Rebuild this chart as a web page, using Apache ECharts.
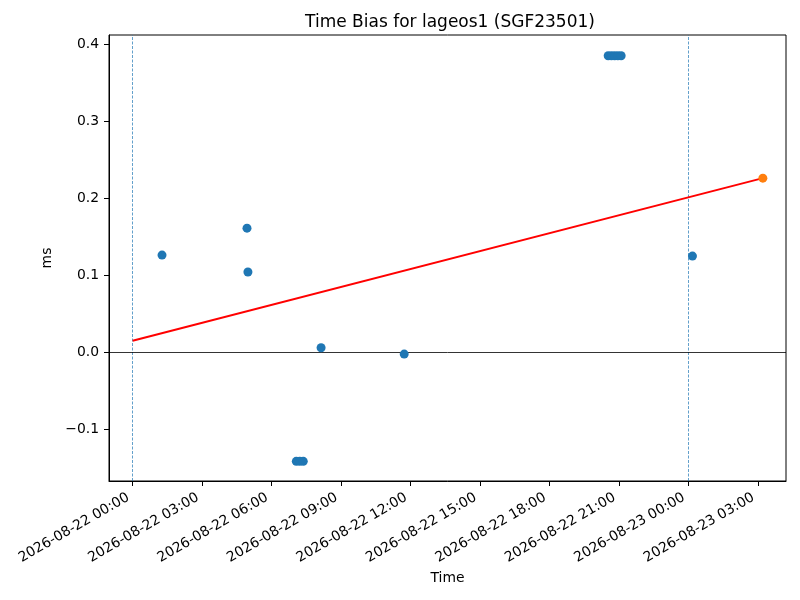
<!DOCTYPE html>
<html lang="en">
<head>
<meta charset="UTF-8">
<title>Time Bias</title>
<script src="https://cdn.jsdelivr.net/npm/echarts@6/dist/echarts.min.js"></script>
<style>
    html, body { margin:0; padding:0; background:#fff; }
    #chart { width:800px; height:600px; }
</style>
</head>
<body>
<div id="chart"></div>
<script>
    // observed time bias (ms) per pass
    var obsTimes = ['2026-08-22 01:16:12', '2026-08-22 04:56:24', '2026-08-22 04:58:48',
        '2026-08-22 07:04:12', '2026-08-22 07:13:12', '2026-08-22 07:22:12',
        '2026-08-22 08:08:24', '2026-08-22 11:43:48',
        '2026-08-22 20:32:24', '2026-08-22 20:40:48', '2026-08-22 20:49:12',
        '2026-08-22 20:57:36', '2026-08-22 21:06:00', '2026-08-23 00:10:48'];
    var obsBias = [0.126, 0.161, 0.104,
        -0.142, -0.142, -0.142,
        0.0056, -0.0026,
        0.385, 0.385, 0.385,
        0.385, 0.385, 0.1247];
    // linear fit and predicted value
    var fitTimes = ['2026-08-22 00:00:00', '2026-08-23 03:13:12'];
    var fitBias = [0.0147, 0.226];
    var predTimes = ['2026-08-23 03:13:12'];
    var predBias = [0.226];
    // day boundaries
    var dayMarks = ['2026-08-22 00:00:00', '2026-08-23 00:00:00'];
    var xTicks = ['2026-08-22 00:00:00', '2026-08-22 03:00:00', '2026-08-22 06:00:00',
        '2026-08-22 09:00:00', '2026-08-22 12:00:00', '2026-08-22 15:00:00',
        '2026-08-22 18:00:00', '2026-08-22 21:00:00', '2026-08-23 00:00:00',
        '2026-08-23 03:00:00'];
    var yTicks = [-0.1, 0.0, 0.1, 0.2, 0.3, 0.4];

    function toMs(s) {
        var p = s.split(/[- :]/).map(Number);
        return Date.UTC(p[0], p[1] - 1, p[2], p[3], p[4], p[5] || 0);
    }
    function pad(n) { return (n < 10 ? '0' : '') + n; }
    function fmtTime(v) {
        var d = new Date(v);
        return d.getUTCFullYear() + '-' + pad(d.getUTCMonth() + 1) + '-' + pad(d.getUTCDate()) +
            ' ' + pad(d.getUTCHours()) + ':' + pad(d.getUTCMinutes());
    }
    function pairs(xs, ys) {
        return xs.map(function (t, i) { return [toMs(t), ys[i]]; });
    }

    var font = 'DejaVu Sans';
    var mychart = echarts.init(document.getElementById('chart'));
    var option = {
        animation: false,
        backgroundColor: '#fff',
        title: {
            text: 'Time Bias for lageos1 (SGF23501)',
            left: 450, top: 14, padding: 0, textAlign: 'center',
            textStyle: { fontFamily: font, fontSize: 17, fontWeight: 'normal', color: '#000' }
        },
        grid: {
            left: 109, right: 14, top: 35, bottom: 119,
            show: true, borderColor: '#000', borderWidth: 1, backgroundColor: 'transparent'
        },
        xAxis: {
            type: 'value',
            min: toMs('2026-08-21 22:58:48'),
            max: toMs('2026-08-23 04:13:12'),
            name: 'Time', nameLocation: 'middle', nameGap: 90,
            nameTextStyle: { fontFamily: font, fontSize: 13.9, color: '#000' },
            splitLine: { show: false },
            axisLine: { onZero: false, lineStyle: { color: '#000', width: 1 } },
            axisTick: { show: true, length: 5, customValues: xTicks.map(toMs), lineStyle: { color: '#000' } },
            axisLabel: {
                customValues: xTicks.map(toMs), rotate: 30, margin: 13, padding: [0, 5, 0, 0],
                fontFamily: font, fontSize: 13.9, color: '#000',
                formatter: fmtTime
            }
        },
        yAxis: {
            type: 'value', min: -0.1675, max: 0.412,
            name: 'ms', nameLocation: 'middle', nameGap: 46, nameRotate: 90,
            nameTextStyle: { fontFamily: font, fontSize: 13.9, color: '#000' },
            splitLine: { show: false },
            axisLine: { show: true, onZero: false, lineStyle: { color: '#000', width: 1 } },
            axisTick: { show: true, length: 5, customValues: yTicks, lineStyle: { color: '#000' } },
            axisLabel: {
                customValues: yTicks, margin: 10,
                fontFamily: font, fontSize: 13.9, color: '#000',
                formatter: function (v) { return v.toFixed(1).replace('-', '\u2212'); }
            }
        },
        series: [
            {
                type: 'scatter', z: 3, symbolSize: 9, itemStyle: { color: '#1f77b4', opacity: 1 },
                data: pairs(obsTimes, obsBias),
                markLine: {
                    z: 1, silent: true, symbol: 'none', label: { show: false },
                    lineStyle: { color: '#1f77b4', type: [3, 1.5], width: 0.7 },
                    data: dayMarks.map(function (t) { return { xAxis: toMs(t) }; })
                }
            },
            {
                type: 'line', z: 2, showSymbol: false, symbol: 'none',
                lineStyle: { color: '#ff0000', width: 2 },
                data: pairs(fitTimes, fitBias),
                markLine: {
                    z: 1, silent: true, symbol: 'none', label: { show: false },
                    lineStyle: { color: '#000', type: 'solid', width: 0.8 },
                    data: [{ yAxis: 0 }]
                }
            },
            {
                type: 'scatter', z: 3, symbolSize: 9, itemStyle: { color: '#ff7f0e', opacity: 1 },
                data: pairs(predTimes, predBias)
            }
        ]
    };
    mychart.setOption(option);
</script>
</body>
</html>
